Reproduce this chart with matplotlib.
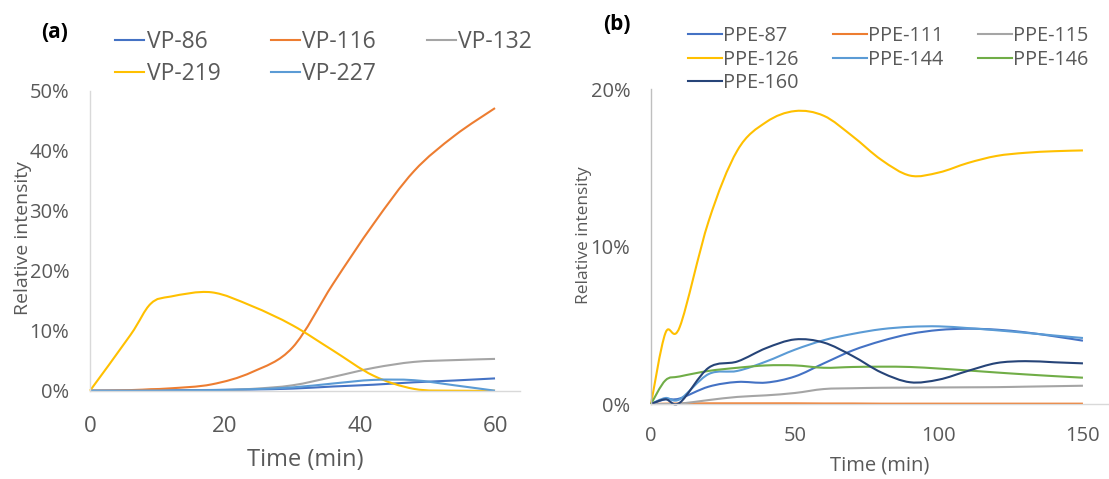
import numpy as np
import matplotlib.pyplot as plt
from matplotlib.path import Path
from matplotlib.patches import PathPatch
from matplotlib.lines import Line2D
from matplotlib.ticker import FuncFormatter

plt.rcParams['font.family'] = ['Open Sans', 'DejaVu Sans']

# ---- panel (a) data, relative intensity in % ----
time_a = [0, 6, 9, 12, 18, 24, 30, 36, 42, 48, 54, 60]
vp86 = [0, 0, 0.05, 0.08, 0.12, 0.2, 0.35, 0.7, 1.0, 1.4, 1.7, 2.05]
vp116 = [0, 0.1, 0.25, 0.4, 1.05, 3.1, 7.2, 17.8, 27.8, 36.6, 42.5, 47.1]
vp132 = [0, 0, 0, 0, 0.05, 0.3, 0.9, 2.3, 3.8, 4.8, 5.1, 5.3]
vp219 = [0, 9.3, 14.5, 15.7, 16.4, 14.1, 10.9, 6.7, 2.5, 0.3, 0, 0]
vp227 = [0, 0, 0, 0.02, 0.1, 0.25, 0.55, 1.2, 1.8, 1.75, 0.9, 0]

# ---- panel (b) data ----
time_b = [0, 5, 10, 20, 30, 40, 50, 60, 70, 80, 90, 100, 110, 120, 130, 140, 150]
ppe87 = [0, 0.3, 0.35, 1.1, 1.4, 1.36, 1.75, 2.58, 3.4, 4.0, 4.45, 4.7, 4.78, 4.72, 4.55, 4.3, 4.02]
ppe111 = [0, 0.02, 0.03, 0.04, 0.04, 0.04, 0.04, 0.03, 0.03, 0.02, 0.02, 0.02, 0.02, 0.02, 0.02, 0.02, 0.02]
ppe115 = [0, 0, 0.02, 0.25, 0.45, 0.55, 0.7, 0.95, 1.0, 1.03, 1.04, 1.05, 1.06, 1.07, 1.1, 1.13, 1.16]
ppe126 = [0, 4.5, 4.9, 11.6, 16.1, 17.9, 18.6, 18.3, 17.0, 15.5, 14.5, 14.7, 15.3, 15.75, 15.95, 16.05, 16.1]
ppe144 = [0, 0.38, 0.3, 1.9, 2.1, 2.7, 3.45, 4.05, 4.45, 4.75, 4.9, 4.93, 4.82, 4.68, 4.52, 4.35, 4.19]
ppe146 = [0, 1.5, 1.75, 2.1, 2.3, 2.45, 2.45, 2.3, 2.35, 2.37, 2.35, 2.25, 2.13, 2.0, 1.88, 1.77, 1.67]
ppe160 = [0, 0.3, 0.08, 2.3, 2.7, 3.55, 4.1, 3.9, 3.05, 2.0, 1.38, 1.55, 2.1, 2.6, 2.72, 2.65, 2.58]

blue = '#4472C4'
orange = '#ED7D31'
gray = '#A5A5A5'
yellow = '#FFC000'
lblue = '#5B9BD5'
green = '#70AD47'
navy = '#264478'
txt = '#595959'
LW = 1.5


def smooth_line(ax, x, y, color, lw=LW):
    # excel style smoothed line (catmull-rom pieces as cubic beziers)
    x = np.asarray(x, float)
    y = np.asarray(y, float)
    n = len(x)
    verts = [(x[0], y[0])]
    codes = [Path.MOVETO]
    for i in range(n - 1):
        i0 = max(i - 1, 0)
        i3 = min(i + 2, n - 1)
        c1 = (x[i] + (x[i + 1] - x[i0]) / 6, y[i] + (y[i + 1] - y[i0]) / 6)
        c2 = (x[i + 1] - (x[i3] - x[i]) / 6, y[i + 1] - (y[i3] - y[i]) / 6)
        verts += [c1, c2, (x[i + 1], y[i + 1])]
        codes += [Path.CURVE4] * 3
    ax.add_patch(PathPatch(Path(verts, codes), fill=False, edgecolor=color,
                           lw=lw, joinstyle='round', clip_on=False))


def style(ax, leftcol):
    for s in ['top', 'right']:
        ax.spines[s].set_visible(False)
    ax.spines['left'].set_color(leftcol)
    ax.spines['bottom'].set_color('#D9D9D9')
    ax.spines['left'].set_linewidth(1)
    ax.spines['bottom'].set_linewidth(1)
    ax.yaxis.set_major_formatter(FuncFormatter(lambda v, p: '%d%%' % round(v)))


fig = plt.figure(figsize=(11.09, 4.79), dpi=100)

# ---------------- (a) ----------------
ax1 = fig.add_axes([90 / 1109, 1 - 390.7 / 479, 430 / 1109, 300 / 479])
series_a = [(vp86, blue, 'VP-86'), (vp116, orange, 'VP-116'), (vp132, gray, 'VP-132'),
            (vp219, yellow, 'VP-219'), (vp227, lblue, 'VP-227')]
for vals, c, lab in series_a:
    smooth_line(ax1, time_a, vals, c)
ax1.set_xlim(0, 63.7)
ax1.set_ylim(0, 50)
ax1.set_xticks([0, 20, 40, 60])
ax1.set_yticks([0, 10, 20, 30, 40, 50])
style(ax1, '#D9D9D9')
ax1.tick_params(axis='y', length=0, pad=15, labelsize=14.5, labelcolor=txt)
ax1.tick_params(axis='x', length=0, pad=18, labelsize=16, labelcolor=txt)
ax1.set_xlabel('Time (min)', fontsize=17, color=txt, labelpad=8)
ax1.set_ylabel('Relative intensity', fontsize=14, color=txt)
ax1.yaxis.set_label_coords(32 / 1109, 1 - 238 / 479, transform=fig.transFigure)

# legend order so that rows read like the original
order_a = [0, 3, 1, 4, 2]
h_a = [Line2D([], [], color=series_a[i][1], lw=LW) for i in order_a]
l_a = [series_a[i][2] for i in order_a]
fig.legend(h_a, l_a, loc='upper left', bbox_to_anchor=(115 / 1109, 1 - 30 / 479),
           ncol=3, frameon=False, fontsize=16.5, borderpad=0, borderaxespad=0,
           handlelength=1.28, handletextpad=0.1, columnspacing=2.2,
           labelspacing=0.34, labelcolor=txt)
fig.text(55 / 1109, 1 - 33 / 479, '(a)', fontsize=15, fontweight='bold',
         ha='center', va='center')

# ---------------- (b) ----------------
ax2 = fig.add_axes([651 / 1109, 1 - 404 / 479, 457 / 1109, 315 / 479])
series_b = [(ppe87, blue, 'PPE-87'), (ppe111, orange, 'PPE-111'), (ppe115, gray, 'PPE-115'),
            (ppe126, yellow, 'PPE-126'), (ppe144, lblue, 'PPE-144'), (ppe146, green, 'PPE-146'),
            (ppe160, navy, 'PPE-160')]
for vals, c, lab in series_b:
    smooth_line(ax2, time_b, vals, c)
ax2.set_xlim(0, 158.7)
ax2.set_ylim(0, 20)
ax2.set_xticks([0, 50, 100, 150])
ax2.set_yticks([0, 10, 20])
style(ax2, '#BFBFBF')
ax2.tick_params(axis='y', length=0, pad=15, labelsize=14.5, labelcolor=txt)
ax2.tick_params(axis='x', length=0, pad=16, labelsize=14.5, labelcolor=txt)
ax2.set_xlabel('Time (min)', fontsize=14.5, color=txt, labelpad=7)
ax2.set_ylabel('Relative intensity', fontsize=12.5, color=txt)
ax2.yaxis.set_label_coords(592 / 1109, 1 - 235 / 479, transform=fig.transFigure)

order_b = [0, 3, 6, 1, 4, 2, 5]
h_b = [Line2D([], [], color=series_b[i][1], lw=LW) for i in order_b]
l_b = [series_b[i][2] for i in order_b]
fig.legend(h_b, l_b, loc='upper left', bbox_to_anchor=(688 / 1109, 1 - 26 / 479),
           ncol=3, frameon=False, fontsize=14.3, borderpad=0, borderaxespad=0,
           handlelength=1.7, handletextpad=0.05, columnspacing=1.76,
           labelspacing=0.18, labelcolor=txt)
fig.text(617 / 1109, 1 - 24 / 479, '(b)', fontsize=15, fontweight='bold',
         ha='center', va='center')

fig.savefig('out.png', dpi=100)
